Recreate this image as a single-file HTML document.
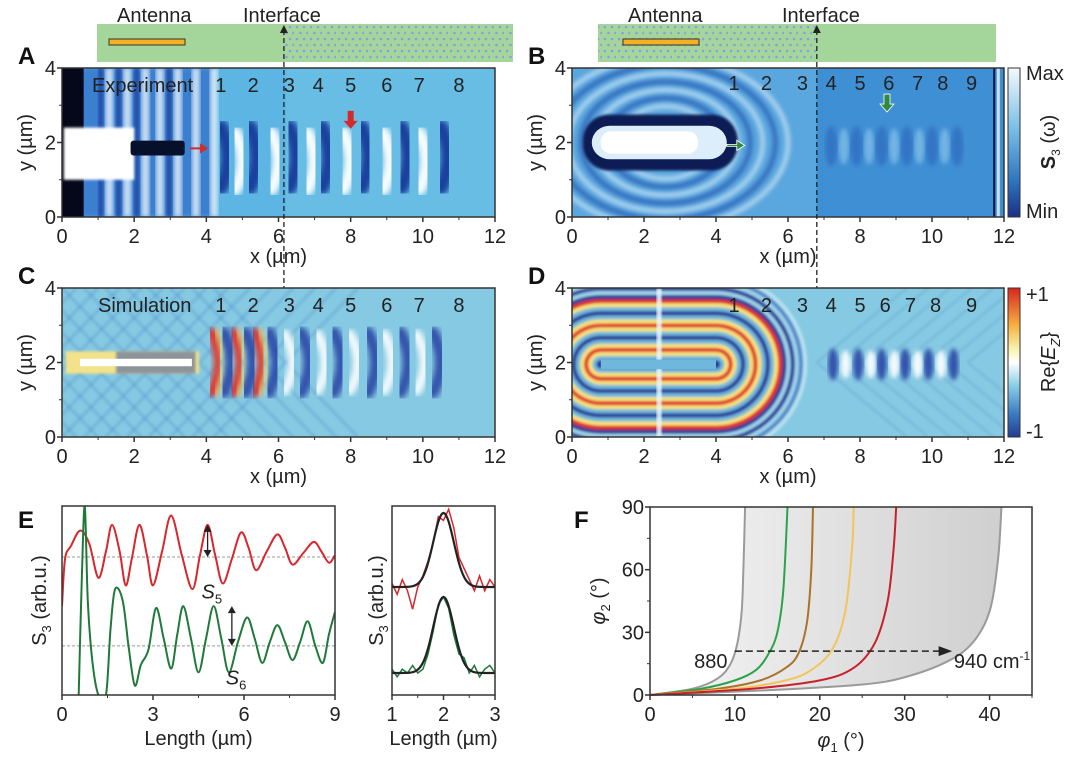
<!DOCTYPE html>
<html><head><meta charset="utf-8">
<style>
html,body{margin:0;padding:0;background:#fff}
svg{display:block}
text{font-family:"Liberation Sans",sans-serif;fill:#222}
.lab{font-size:24px;font-weight:bold;fill:#111}
.tk{font-size:20px}
</style></head>
<body>
<svg id="fig" width="1080" height="765" viewBox="0 0 1080 765" xmlns="http://www.w3.org/2000/svg">
<defs>
<filter id="blur2"><feGaussianBlur stdDeviation="2.2"/></filter>
<filter id="blur3"><feGaussianBlur stdDeviation="3"/></filter>
<filter id="blur1"><feGaussianBlur stdDeviation="1.2"/></filter>
<clipPath id="clipA"><rect x="62" y="68" width="433" height="149"/></clipPath>
<clipPath id="clipB"><rect x="572" y="68" width="432" height="149"/></clipPath>
<clipPath id="clipC"><rect x="62" y="288" width="433" height="149"/></clipPath>
<clipPath id="clipD"><rect x="572" y="288" width="432" height="149"/></clipPath>
<linearGradient id="cbB" x1="0" y1="0" x2="0" y2="1"><stop offset="0" stop-color="#f4f8fc"/><stop offset="0.4" stop-color="#7cc0e6"/><stop offset="0.75" stop-color="#2f77c0"/><stop offset="1" stop-color="#1a2f85"/></linearGradient>
<linearGradient id="cbD" x1="0" y1="0" x2="0" y2="1"><stop offset="0" stop-color="#d8261e"/><stop offset="0.25" stop-color="#f6b040"/><stop offset="0.4" stop-color="#f6f0a8"/><stop offset="0.5" stop-color="#ffffff"/><stop offset="0.65" stop-color="#8cd0e8"/><stop offset="0.85" stop-color="#3a78c0"/><stop offset="1" stop-color="#233c92"/></linearGradient>
<linearGradient id="fgrad" x1="0" y1="0" x2="1" y2="0"><stop offset="0" stop-color="#f6f6f6"/><stop offset="1" stop-color="#cfcfcf"/></linearGradient>
<pattern id="hex" width="14" height="12" patternUnits="userSpaceOnUse"><circle cx="3" cy="3" r="1.3" fill="#8a9ee0"/><circle cx="10" cy="3" r="1.3" fill="#8a9ee0"/><circle cx="6.5" cy="9" r="1.3" fill="#8a9ee0"/><circle cx="13.5" cy="9" r="1.3" fill="#8a9ee0"/></pattern>
</defs>
<g id="root"></g>
</svg>
<script>
// ---------- data ----------
const fringeDarkA = [4.6, 5.4, 6.5, 7.4, 8.5, 9.6, 10.7];
const fringeLightA = [5.0, 6.0, 7.0, 8.0, 9.1, 10.1];
const fringeDarkB = [7.2, 7.9, 8.6, 9.3, 10.0, 10.7];
const fringeLightB = [7.55, 8.25, 8.95, 9.65, 10.35];
const fringeRedC = [4.35, 4.95, 5.55];
const fringeDarkC = [4.7, 5.3, 5.95, 6.85, 7.75, 8.7, 9.6, 10.5];
const fringeLightC = [6.4, 7.3, 8.2, 9.15, 10.05];
const fringeDarkD = [7.25, 7.95, 8.6, 9.25, 9.9, 10.6];
const fringeLightD = [7.6, 8.3, 8.95, 9.6, 10.25];
const numLabelsAC = ["1","2","3","4","5","6","7","8"];
const numPosAC = [4.4, 5.3, 6.3, 7.1, 8.0, 9.0, 9.9, 11.0];
const numLabelsBD = ["1","2","3","4","5","6","7","8","9"];
const numPosB = [4.5,5.4,6.4,7.2,8.0,8.8,9.6,10.3,11.1];
const numPosD = [4.5,5.4,6.4,7.2,8.0,8.7,9.4,10.1,11.1];
const mapTicksX = [0,2,4,6,8,10,12];
const mapTicksY = [0,2,4];

const eRedX = [0,0.1,0.3,0.6,0.9,1.2,1.45,1.65,1.9,2.1,2.3,2.55,2.8,3.0,3.3,3.6,3.95,4.3,4.55,4.8,5.05,5.3,5.6,5.9,6.15,6.4,6.75,7.1,7.35,7.6,7.95,8.3,8.55,8.8,9.0];
const eRedY = [4.7,7.2,7.9,8.7,8.0,6.2,7.6,9.0,7.6,5.8,7.2,9.0,7.4,5.8,7.6,9.5,7.4,5.6,7.4,9.0,7.4,5.9,7.2,8.6,7.8,6.6,7.6,8.5,7.8,6.9,7.5,8.1,7.6,7.0,7.4];
const eGreenX = [0.55,0.65,0.75,0.85,1.0,1.2,1.45,1.6,1.75,2.0,2.2,2.4,2.6,2.85,3.1,3.35,3.6,3.8,4.0,4.25,4.5,4.75,5.0,5.25,5.5,5.8,6.1,6.35,6.6,6.85,7.1,7.35,7.6,7.85,8.1,8.35,8.6,8.8,9.0];
const eGreenY = [0,6,10,5,1.8,0,0,3.5,5.6,5.0,2.5,0.5,1.6,2.4,4.6,3.0,1.4,3.2,4.7,3.0,1.2,3.0,4.7,3.0,1.2,2.8,4.1,3.0,1.7,2.8,3.7,2.8,1.85,2.8,3.9,2.6,1.7,3.2,4.4];
const eRedBase = 7.3, eGreenBase = 2.6;
const eTicksX = [0,3,6,9];

const sRedX = [1,1.1,1.2,1.3,1.4,1.5,1.6,1.7,1.8,1.9,2.0,2.1,2.2,2.3,2.4,2.5,2.6,2.7,2.8,2.9,3.0];
const sRedY = [0.05,-0.1,0.1,-0.05,-0.3,0.0,0.15,0.35,0.6,0.95,0.9,1.05,0.8,0.4,0.25,0.1,-0.05,0.15,-0.05,0.1,0.0];
const sGreenX = sRedX;
const sGreenY = [0.05,-0.05,0.05,0.0,0.1,0.0,0.05,0.25,0.55,0.9,1.0,0.85,0.5,0.25,0.2,0.0,0.1,-0.05,0.05,0.1,0.0];
const sCenter = 2.0, sSigma = 0.2;
const sTicksX = [1,2,3];

const fGrayLX = [0,5,8,9.5,10.3,10.8,11,11.2];
const fGrayLY = [0,3,8,15,25,40,60,90];
const fGreenX = [0,6,10,12.5,14,15,15.7,16.2];
const fGreenY = [0,3,7,12,20,30,50,90];
const fBrownX = [0,8,13,16,17.5,18.5,19,19.2];
const fBrownY = [0,3,7,13,20,35,60,90];
const fYellowX = [0,10,16,19,21.5,23,23.8,24];
const fYellowY = [0,3,7,12,22,40,70,90];
const fRedX = [0,12,20,24,26.5,28,28.7,29];
const fRedY = [0,3,7,13,25,45,70,90];
const fGrayRX = [0,15,25,30,35,38,40,41,41.4];
const fGrayRY = [0,2.5,5,8.5,16,25,40,65,90];
const fTicksX = [0,10,20,30,40];
const fTicksY = [0,30,60,90];

// ---------- helpers ----------
const NS = "http://www.w3.org/2000/svg";
const root = document.getElementById('root');
function el(tag, attrs, parent, txt){
  const e = document.createElementNS(NS, tag);
  for (const k in attrs) e.setAttribute(k, attrs[k]);
  if (txt !== undefined) e.textContent = txt;
  (parent || root).appendChild(e);
  return e;
}
function scale(d0,d1,r0,r1){ return v => r0 + (v-d0)/(d1-d0)*(r1-r0); }
function smoothPath(pts){
  let d = "M"+pts[0][0]+","+pts[0][1];
  for (let i=0;i<pts.length-1;i++){
    const p0=pts[Math.max(i-1,0)], p1=pts[i], p2=pts[i+1], p3=pts[Math.min(i+2,pts.length-1)];
    const c1=[p1[0]+(p2[0]-p0[0])/6, p1[1]+(p2[1]-p0[1])/6];
    const c2=[p2[0]-(p3[0]-p1[0])/6, p2[1]-(p3[1]-p1[1])/6];
    d += " C"+c1[0]+","+c1[1]+" "+c2[0]+","+c2[1]+" "+p2[0]+","+p2[1];
  }
  return d;
}
function axesFrame(g, x0,x1,y0,y1, sx, sy, ticksX, ticksY, minorX, minorY){
  const f = el('rect',{x:x0,y:y0,width:x1-x0,height:y1-y0,fill:'none',stroke:'#333','stroke-width':1.5},g);
  
  
  ticksX.forEach(t=>{
    const x = sx(t);
    el('line',{x1:x,x2:x,y1:y1,y2:y1+5,stroke:'#333','stroke-width':1.5},g);
    const tx = el('text',{x:x,y:y1+26,'text-anchor':'middle',class:'tk'},g,String(t));
    
    
  });
  (minorX||[]).forEach(t=>{ const x=sx(t); el('line',{x1:x,x2:x,y1:y1,y2:y1+3,stroke:'#333','stroke-width':1},g); });
  ticksY.forEach(t=>{
    const y = sy(t);
    el('line',{x1:x0-5,x2:x0,y1:y,y2:y,stroke:'#333','stroke-width':1.5},g);
    const ty = el('text',{x:x0-6,y:y+7,'text-anchor':'end',class:'tk'},g,String(t));
    
    
  });
  (minorY||[]).forEach(t=>{ const y=sy(t); el('line',{x1:x0-3,x2:x0,y1:y,y2:y,stroke:'#333','stroke-width':1},g); });
}
function fringes(g, xs, sx, sy, yc, rx, ry, color, op){
  xs.forEach(v=>{
    const e = el('ellipse',{cx:sx(v),cy:sy(yc),rx:rx,ry:ry,fill:color,opacity:op,filter:'url(#blur2)'},g);
    
    
  });
}
function crescents(g, xs, sx, sy, yc, w, h, color, op, sw){
  xs.forEach(v=>{
    const x = sx(v), y = sy(yc);
    const p = el('path',{d:`M${x-w},${y-h} Q${x+w},${y} ${x-w},${y+h}`,fill:'none',stroke:color,'stroke-width':sw,opacity:op,filter:'url(#blur3)','stroke-linecap':'round'},g);
    
    
  });
}
function mapLabels(g, x0,x1,y0,y1, label){
  const xl = el('text',{x:(x0+x1)/2,y:y1+46,'text-anchor':'middle',class:'tk'},g,'x (µm)');
  
  
  const yl = el('text',{x:0,y:0,'text-anchor':'middle',class:'tk',transform:`translate(${x0-30},${(y0+y1)/2}) rotate(-90)`},g,'y (µm)');
  
  
  const pl = el('text',{x:x0-44,y:y0-4,class:'lab'},g,label);
  
  
}
function topBar(g, x0,x1, ifx, hexLeft, antX0, antX1, aLabX, iLabX){
  const b = el('rect',{x:x0,y:24,width:x1-x0,height:38,fill:'#a4d59a'},g);
  
  
  if (hexLeft) el('rect',{x:x0,y:24,width:ifx-x0,height:38,fill:'url(#hex)'},g);
  else el('rect',{x:ifx,y:24,width:x1-ifx,height:38,fill:'url(#hex)'},g);
  const a = el('rect',{x:antX0,y:39,width:antX1-antX0,height:6,fill:'#f4b223',stroke:'#333','stroke-width':1},g);
  
  
  const t1 = el('text',{x:aLabX,y:22,class:'tk'},g,'Antenna');
  
  
  const t2 = el('text',{x:iLabX,y:22,class:'tk'},g,'Interface');
  
  
}
function numLabels(g, labels, sx, pos, y){
  labels.forEach((s,i)=>{
    const t = el('text',{x:sx(pos[i]),y:y,'text-anchor':'middle',class:'tk'},g,s);
    
    
  });
}

// ---------- Panel A ----------
(function(){
  const x0=62,x1=495,y0=68,y1=217;
  const sx=scale(0,12,x0,x1), sy=scale(0,4,y1,y0);
  const g = el('g',{});  
  topBar(g,97,513,sx(6.15),false,109,185,117,243);
  const c = el('g',{'clip-path':'url(#clipA)'},g);
  el('rect',{x:x0,y:y0,width:x1-x0,height:y1-y0,fill:'#5cb5e2'},c);
  el('rect',{x:sx(6.2),y:y0,width:x1-sx(6.2),height:y1-y0,fill:'#6cc0e6',opacity:0.7},c);
  el('rect',{x:x0,y:y0,width:sx(4.2)-x0,height:y1-y0,fill:'#3a7fd0',filter:'url(#blur2)'},c);
  [1.2,1.7,2.2,2.6,3.1,3.6,4.1].forEach(v=>el('rect',{x:sx(v),y:y0,width:8,height:y1-y0,fill:'#eaf4fb',opacity:0.8,filter:'url(#blur2)'},c));
  [1.0,1.5,2.0,2.9].forEach(v=>el('rect',{x:sx(v),y:y0,width:5,height:y1-y0,fill:'#1a3e99',opacity:0.7,filter:'url(#blur1)'},c));
  el('rect',{x:x0,y:y0,width:sx(0.6)-x0,height:y1-y0,fill:'#05081a'},c);
  el('rect',{x:sx(0.05),y:sy(2.4),width:sx(2.0)-sx(0.05),height:sy(1.0)-sy(2.4),fill:'#ffffff',filter:'url(#blur1)'},c);
  el('rect',{x:sx(1.9),y:sy(2.05),width:sx(3.4)-sx(1.9),height:sy(1.65)-sy(2.05),fill:'#06102a',rx:3},c);
  crescents(c, fringeDarkA, sx, sy, 1.6, 7, 30, '#123a9a', 0.95, 15);
  crescents(c, fringeLightA, sx, sy, 1.5, 7, 28, '#ffffff', 0.95, 13);
  el('path',{d:`M${sx(3.55)},${sy(1.87)} h10 v-4 l8,5 l-8,5 v-4 h-10z`,fill:'#d42a2a'},c);
  el('path',{d:`M${sx(8)-3},${sy(2.85)} v10 h-4 l7,8 l7,-8 h-4 v-10z`,fill:'#d42a2a'},c);
  const ex = el('text',{x:92,y:92,class:'tk'},g,'Experiment');
   
  numLabels(g, numLabelsAC, sx, numPosAC, 92);
  axesFrame(g,x0,x1,y0,y1,sx,sy,mapTicksX,mapTicksY,[1,3,5,7,9,11],[1,3]);
  mapLabels(g,x0,x1,y0,y1,'A');
  const il = el('line',{x1:sx(6.15),x2:sx(6.15),y1:30,y2:437,stroke:'#222','stroke-width':1.3,'stroke-dasharray':'5,3'},root);
   
  el('path',{d:`M${sx(6.15)-4},33 L${sx(6.15)},25 L${sx(6.15)+4},33z`,fill:'#222'});
})();

// ---------- Panel B ----------
(function(){
  const x0=572,x1=1004,y0=68,y1=217;
  const sx=scale(0,12,x0,x1), sy=scale(0,4,y1,y0);
  const g = el('g',{});  
  topBar(g,598,996,sx(6.8),true,623,699,628,782);
  const c = el('g',{'clip-path':'url(#clipB)'},g);
  el('rect',{x:x0,y:y0,width:x1-x0,height:y1-y0,fill:'#3f8fd4'},c);
  el('rect',{x:x0,y:y0,width:sx(6.8)-x0,height:y1-y0,fill:'#5aa6de'},c);
  for(let i=0;i<7;i++){ el('ellipse',{cx:sx(2.6),cy:sy(2),rx:(3.4-i*0.35)*36,ry:(2.3-i*0.22)*37,fill:'none',stroke:i%2?'#1e4aa8':'#dff0fa','stroke-width':5,opacity:0.6,filter:'url(#blur2)'},c); }
  el('rect',{x:sx(0.3),y:sy(2.75),width:sx(4.6)-sx(0.3),height:sy(1.25)-sy(2.75),rx:26,fill:'#0a1a55',filter:'url(#blur1)'},c);
  el('rect',{x:sx(0.55),y:sy(2.45),width:sx(4.3)-sx(0.55),height:sy(1.55)-sy(2.45),rx:18,fill:'#dbeefa'},c);
  el('rect',{x:sx(0.8),y:sy(2.3),width:sx(3.5)-sx(0.8),height:sy(1.7)-sy(2.3),rx:10,fill:'#ffffff'},c);
  fringes(c, fringeDarkB, sx, sy, 1.9, 6, 20, '#2a5fb8', 0.55);
  fringes(c, fringeLightB, sx, sy, 1.9, 5, 18, '#9fd3f0', 0.55);
  el('rect',{x:sx(11.7),y:y0,width:2,height:y1-y0,fill:'#0a1440'},c);
  el('rect',{x:sx(11.8),y:y0,width:3,height:y1-y0,fill:'#e8f4fb',opacity:0.8},c);
  el('path',{d:`M${sx(4.3)},${sy(1.95)} h10 v-4 l8,5 l-8,5 v-4 h-10z`,fill:'#2f8a3e',stroke:'#fff','stroke-width':0.8},c);
  el('path',{d:`M${sx(8.75)-3},${sy(3.3)} v10 h-4 l7,8 l7,-8 h-4 v-10z`,fill:'#2f8a3e',stroke:'#fff','stroke-width':0.8},c);
  numLabels(g, numLabelsBD, sx, numPosB, 90);
  axesFrame(g,x0,x1,y0,y1,sx,sy,mapTicksX,mapTicksY,[1,3,5,7,9,11],[1,3]);
  mapLabels(g,x0,x1,y0,y1,'B');
  const cb = el('rect',{x:1008,y:68,width:12,height:149,fill:'url(#cbB)',stroke:'#333','stroke-width':1},g);
   
  el('text',{x:1026,y:80,class:'tk','font-size':'16px'},g,'Max');
  el('text',{x:1026,y:218,class:'tk','font-size':'16px'},g,'Min');
  const ct = el('text',{x:0,y:0,'text-anchor':'middle',class:'tk',transform:'translate(1055,142) rotate(-90)'},g);
   
  el('tspan',{'font-weight':'bold'},ct,'S');
  el('tspan',{dy:5,'font-size':'12px'},ct,'3');
  el('tspan',{dy:-5},ct,' (ω)');
  const il = el('line',{x1:sx(6.8),x2:sx(6.8),y1:30,y2:437,stroke:'#222','stroke-width':1.3,'stroke-dasharray':'5,3'},root);
   
  el('path',{d:`M${sx(6.8)-4},33 L${sx(6.8)},25 L${sx(6.8)+4},33z`,fill:'#222'});
  el('path',{d:`M${sx(6.8)-4},429 L${sx(6.8)},437 L${sx(6.8)+4},429z`,fill:'#222'});
})();

// ---------- Panel C ----------
(function(){
  const x0=62,x1=495,y0=288,y1=437;
  const sx=scale(0,12,x0,x1), sy=scale(0,4,y1,y0);
  const g = el('g',{});  
  const c = el('g',{'clip-path':'url(#clipC)'},g);
  el('rect',{x:x0,y:y0,width:x1-x0,height:y1-y0,fill:'#86c9e2'},c);
  for(let k=-6;k<8;k++){
    el('line',{x1:sx(k*0.6),y1:y1,x2:sx(k*0.6+4),y2:y0,stroke:'#3f7fc4','stroke-width':3,opacity:0.25,filter:'url(#blur1)'},c);
    el('line',{x1:sx(k*0.6),y1:y0,x2:sx(k*0.6+4),y2:y1,stroke:'#3f7fc4','stroke-width':3,opacity:0.25,filter:'url(#blur1)'},c);
  }
  el('rect',{x:sx(0.1),y:sy(2.3),width:sx(3.8)-sx(0.1),height:sy(1.7)-sy(2.3),fill:'#f3e28a',filter:'url(#blur1)'},c);
  el('rect',{x:sx(1.5),y:sy(2.3),width:sx(3.7)-sx(1.5),height:sy(1.7)-sy(2.3),fill:'#2a4aa8',opacity:0.5,filter:'url(#blur1)'},c);
  el('rect',{x:sx(0.5),y:sy(2.1),width:sx(3.6)-sx(0.5),height:sy(1.9)-sy(2.1),fill:'#ffffff'},c);
  crescents(c, fringeRedC, sx, sy, 2, 8, 30, '#e0322a', 0.95, 10);
  crescents(c, fringeRedC.map(v=>v+0.14), sx, sy, 2, 8, 32, '#f5d860', 0.8, 5);
  crescents(c, fringeDarkC, sx, sy, 2, 8, 30, '#2a47a6', 0.9, 12);
  crescents(c, fringeLightC, sx, sy, 2, 8, 28, '#ffffff', 0.9, 10);
  const s = el('text',{x:98,y:312,class:'tk'},g,'Simulation');
   
  numLabels(g, numLabelsAC, sx, numPosAC, 312);
  axesFrame(g,x0,x1,y0,y1,sx,sy,mapTicksX,mapTicksY,[1,3,5,7,9,11],[1,3]);
  mapLabels(g,x0,x1,y0,y1,'C');
})();

// ---------- Panel D ----------
(function(){
  const x0=572,x1=1004,y0=288,y1=437;
  const sx=scale(0,12,x0,x1), sy=scale(0,4,y1,y0);
  const g = el('g',{});  
  const c = el('g',{'clip-path':'url(#clipD)'},g);
  el('rect',{x:x0,y:y0,width:x1-x0,height:y1-y0,fill:'#86c9e2'},c);
  const cols=['#2a3c98','#6fb7dc','#f5e27a','#e0322a','#f5e27a','#6fb7dc'];
  const bands = el('g',{filter:'url(#blur1)'},c);
  for(let k=21;k>=0;k--){
    const d=0.12+k*0.115;
    let col = cols[k%6];
    if (k>15) col = ['#2a3c98','#9fd6ea','#4f88c8','#b8e2f0','#2a3c98','#9fd6ea'][k%6];
    el('rect',{x:sx(0.8-d),y:sy(1.95+d*0.95),width:sx(4+d)-sx(0.8-d),height:sy(1.95-d*0.95)-sy(1.95+d*0.95),rx:(sx(d)-sx(0)),ry:(sy(0)-sy(d*0.95)),fill:col},bands);
  }
  el('rect',{x:sx(2.35),y:y0,width:5,height:y1-y0,fill:'#e8f6fb',opacity:0.9,filter:'url(#blur1)'},c);
  el('rect',{x:sx(0.8),y:sy(2.08),width:sx(4)-sx(0.8),height:sy(1.82)-sy(2.08),fill:'#6fb7dc'},c);
  el('rect',{x:sx(6.8),y:y0,width:x1-sx(6.8),height:y1-y0,fill:'#86c9e2',opacity:0.9},c);
  for(let k=0;k<8;k++){
    el('line',{x1:sx(6.8+k*0.6),y1:sy(2),x2:sx(6.8+k*0.6+2.5),y2:y0,stroke:'#5a9ed0','stroke-width':2,opacity:0.4,filter:'url(#blur1)'},c);
    el('line',{x1:sx(6.8+k*0.6),y1:sy(2),x2:sx(6.8+k*0.6+2.5),y2:y1,stroke:'#5a9ed0','stroke-width':2,opacity:0.4,filter:'url(#blur1)'},c);
  }
  fringes(c, fringeDarkD, sx, sy, 1.95, 5, 16, '#2a47a6', 0.9);
  fringes(c, fringeLightD, sx, sy, 1.95, 5, 14, '#ffffff', 0.9);
  numLabels(g, numLabelsBD, sx, numPosD, 312);
  axesFrame(g,x0,x1,y0,y1,sx,sy,mapTicksX,mapTicksY,[1,3,5,7,9,11],[1,3]);
  mapLabels(g,x0,x1,y0,y1,'D');
  const cb = el('rect',{x:1008,y:288,width:12,height:149,fill:'url(#cbD)',stroke:'#333','stroke-width':1},g);
   
  el('text',{x:1026,y:301,class:'tk','font-size':'17px'},g,'+1');
  el('text',{x:1026,y:438,class:'tk','font-size':'17px'},g,'-1');
  const ct = el('text',{x:0,y:0,'text-anchor':'middle',class:'tk',transform:'translate(1055,362) rotate(-90)'},g);
   
  el('tspan',{},ct,'Re{');
  el('tspan',{'font-style':'italic'},ct,'E');
  el('tspan',{dy:5,'font-size':'13px','font-style':'italic'},ct,'Z');
  el('tspan',{dy:-5},ct,'}');
})();

// ---------- Panel E ----------
(function(){
  const x0=62,x1=335,y0=506,y1=695;
  const sx=scale(0,9,x0,x1), sy=scale(0,10,y1,y0);
  const g = el('g',{});  
  const cp = el('clipPath',{id:'clipE'},g); el('rect',{x:x0,y:y0,width:x1-x0,height:y1-y0},cp);
  [eRedBase,eGreenBase].forEach(b=>{ const l=el('line',{x1:x0,x2:x1,y1:sy(b),y2:sy(b),stroke:'#999','stroke-width':1,'stroke-dasharray':'3,2'},g);   });
  const gc = el('g',{'clip-path':'url(#clipE)'},g);
  const r = el('path',{d:smoothPath(eRedX.map((v,i)=>[sx(v),sy(eRedY[i])])),fill:'none',stroke:'#d9262c','stroke-width':2},gc);
   
  const gr = el('path',{d:smoothPath(eGreenX.map((v,i)=>[sx(v),sy(eGreenY[i])])),fill:'none',stroke:'#1f7a3a','stroke-width':2},gc);
   
  [[4.8,9.0,7.3],[5.6,4.7,2.6]].forEach(a=>{
    const x=sx(a[0]);
    el('line',{x1:x,x2:x,y1:sy(a[1])+4,y2:sy(a[2])-4,stroke:'#222','stroke-width':1.3},g);
    el('path',{d:`M${x-4},${sy(a[1])+7} L${x},${sy(a[1])} L${x+4},${sy(a[1])+7}z`,fill:'#222'},g);
    el('path',{d:`M${x-4},${sy(a[2])-7} L${x},${sy(a[2])} L${x+4},${sy(a[2])-7}z`,fill:'#222'},g);
  });
  const s5 = el('text',{x:sx(4.6),y:sy(5.1),class:'tk','font-style':'italic'},g); s5.textContent='S';
  el('tspan',{dy:5,'font-size':'13px','font-style':'normal'},s5,'5');
  const s6 = el('text',{x:sx(5.4),y:sy(0.55),class:'tk','font-style':'italic'},g); s6.textContent='S';
  el('tspan',{dy:5,'font-size':'13px','font-style':'normal'},s6,'6');
  axesFrame(g,x0,x1,y0,y1,sx,sy,eTicksX,[],[1.5,4.5,7.5],[]);
  const xl = el('text',{x:(x0+x1)/2,y:y1+50,'text-anchor':'middle',class:'tk'},g,'Length (µm)');
   
  const yl = el('text',{x:0,y:0,'text-anchor':'middle',class:'tk',transform:`translate(46,${(y0+y1)/2}) rotate(-90)`},g);
   
  yl.textContent='S'; el('tspan',{dy:5,'font-size':'13px'},yl,'3'); el('tspan',{dy:-5},yl,' (arb.u.)');
  const pl = el('text',{x:18,y:528,class:'lab'},g,'E');  
})();
(function(){
  const x0=392,x1=495,y0=506,y1=695;
  const sx=scale(1,3,x0,x1);
  const g = el('g',{});  
  const rb=587, ra=74, gb=673, ga=76;
  const fitX=[]; for(let i=0;i<=80;i++) fitX.push(1+i*0.025);
  const gauss=v=>Math.exp(-((v-sCenter)**2)/(2*sSigma*sSigma));
  const rd = el('polyline',{points:sRedX.map((v,i)=>sx(v)+','+(rb-sRedY[i]*ra)).join(' '),fill:'none',stroke:'#d9262c','stroke-width':1.5},g);
   
  const gd = el('polyline',{points:sGreenX.map((v,i)=>sx(v)+','+(gb-sGreenY[i]*ga)).join(' '),fill:'none',stroke:'#1f7a3a','stroke-width':1.5},g);
   
  const f1 = el('polyline',{points:fitX.map(v=>sx(v)+','+(rb-gauss(v)*ra)).join(' '),fill:'none',stroke:'#222','stroke-width':2.2},g);
   
  const f2 = el('polyline',{points:fitX.map(v=>sx(v)+','+(gb-gauss(v)*ga)).join(' '),fill:'none',stroke:'#222','stroke-width':2.2},g);
   
  axesFrame(g,x0,x1,y0,y1,sx,v=>0,sTicksX,[],[1.5,2.5],[]);
  const xl = el('text',{x:(x0+x1)/2,y:y1+50,'text-anchor':'middle',class:'tk'},g,'Length (µm)');
   
  const yl = el('text',{x:0,y:0,'text-anchor':'middle',class:'tk',transform:`translate(383,${(y0+y1)/2}) rotate(-90)`},g);
   
  yl.textContent='S'; el('tspan',{dy:5,'font-size':'13px'},yl,'3'); el('tspan',{dy:-5},yl,' (arb.u.)');
})();

// ---------- Panel F ----------
(function(){
  const x0=650,x1=1032,y0=507,y1=695;
  const sx=scale(0,45,x0,x1), sy=scale(0,90,y1,y0);
  const g = el('g',{});  
  const L = fGrayLX.map((v,i)=>[sx(v),sy(fGrayLY[i])]);
  const R = fGrayRX.map((v,i)=>[sx(v),sy(fGrayRY[i])]);
  const ar = el('path',{d:smoothPath(R)+` L${L[L.length-1][0]},${L[L.length-1][1]} `+smoothPath(L.slice().reverse()).replace(/^M/,'L')+'Z',fill:'url(#fgrad)'},g);
   
  const series=[[fGrayLX,fGrayLY,'#9a9a9a','left-boundary'],[fGrayRX,fGrayRY,'#9a9a9a','right-boundary'],[fGreenX,fGreenY,'#2aa34a','curve-green'],[fBrownX,fBrownY,'#a8742a','curve-brown'],[fYellowX,fYellowY,'#f2c45a','curve-yellow'],[fRedX,fRedY,'#c8202a','curve-red']];
  series.forEach(s=>{
    const p = el('path',{d:smoothPath(s[0].map((v,i)=>[sx(v),sy(s[1][i])])),fill:'none',stroke:s[2],'stroke-width':2},g);
     
  });
  const ay=sy(21);
  const dl = el('line',{x1:sx(10),x2:sx(34.5),y1:ay,y2:ay,stroke:'#222','stroke-width':1.6,'stroke-dasharray':'7,4'},g);
   
  el('path',{d:`M${sx(34)},${ay-5} L${sx(35.6)},${ay} L${sx(34)},${ay+5}z`,fill:'#222'},g);
  el('text',{x:sx(5.2),y:ay+17,class:'tk'},g,'880');
  const t = el('text',{x:sx(35.8),y:ay+17,class:'tk'},g,'940 cm'); el('tspan',{dy:-8,'font-size':'12px'},t,'-1');
  axesFrame(g,x0,x1,y0,y1,sx,sy,fTicksX,fTicksY,[5,15,25,35,45],[15,45,75]);
  const xl = el('text',{x:(x0+x1)/2,y:y1+52,'text-anchor':'middle',class:'tk','font-size':'22px'},g);
   
  el('tspan',{'font-style':'italic'},xl,'φ'); el('tspan',{dy:5,'font-size':'13px'},xl,'1'); el('tspan',{dy:-5},xl,' (°)');
  const yl = el('text',{x:0,y:0,'text-anchor':'middle',class:'tk','font-size':'22px',transform:`translate(605,${(y0+y1)/2}) rotate(-90)`},g);
   
  el('tspan',{'font-style':'italic'},yl,'φ'); el('tspan',{dy:5,'font-size':'13px'},yl,'2'); el('tspan',{dy:-5},yl,' (°)');
  const pl = el('text',{x:574,y:528,class:'lab'},g,'F');  
})();
</script>
</body></html>
